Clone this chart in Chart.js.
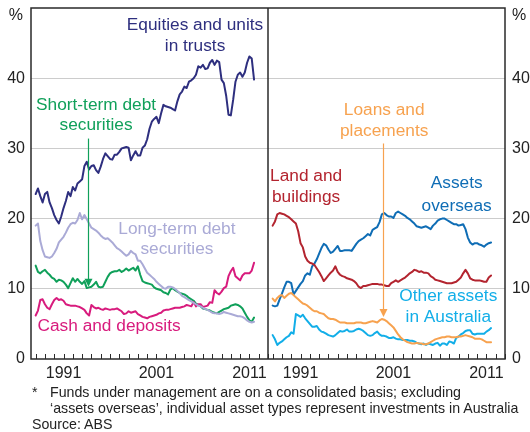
<!DOCTYPE html>
<html><head><meta charset="utf-8">
<script src="https://cdn.jsdelivr.net/npm/chart.js@4.4.1/dist/chart.umd.min.js"></script>
<style>
html,body{margin:0;padding:0;background:#fff;}
#wrap{position:relative;width:530px;height:432px;overflow:hidden;background:#fff;}
canvas{position:absolute;left:0;top:0;}
.note{position:absolute;font-family:"Liberation Sans",Arial,sans-serif;font-size:14.2px;color:#222;white-space:nowrap;line-height:16px;}
</style></head><body>
<div id="wrap">
<canvas id="c" width="530" height="432"></canvas>
<div class="note" style="left:32px;top:384px">*</div>
<div class="note" style="left:50px;top:384px">Funds under management are on a consolidated basis; excluding</div>
<div class="note" style="left:50px;top:400px">‘assets overseas’, individual asset types represent investments in Australia</div>
<div class="note" style="left:32px;top:416px">Source: ABS</div>
</div>
<script>
// ---- time axis (quarterly, from March 1988) ----
const FIRST_QUARTER = 1988.0;
const QUARTER_STEP = 0.25;
const AXIS_START = 1987.5;     // left edge of each panel
const AXIS_END = 2013.0;       // right edge of each panel
const PANEL_OFFSET = AXIS_END - AXIS_START; // shift applied to right-panel x values
const yearTicks = [1988,1989,1990,1991,1992,1993,1994,1995,1996,1997,1998,1999,2000,2001,2002,2003,2004,2005,2006,2007,2008,2009,2010,2011,2012,2013];
const yearLabels = [1991, 2001, 2011];
const valueTicks = [0, 10, 20, 30, 40, 50];

// ---- left panel series (% of total) ----
const equities = [23.5,24.3,23.2,22.3,23.5,23.8,22.3,21.5,20.5,19.8, 19.3,20.3,21.5,22.5,23.8,23.2,24.5,24.0,25.0,25.3, 25.6,27.5,28.1,27.0,27.5,27.6,26.9,26.5,27.4,28.5, 29.3,28.9,28.5,28.4,29.1,29.1,29.5,30.0,30.1,30.2, 30.1,28.3,29.0,29.6,29.0,29.0,30.1,30.4,31.3,32.8, 33.8,34.2,34.5,33.6,35.0,36.2,36.0,35.9,35.8,35.6, 35.4,36.7,37.7,38.1,38.8,38.6,39.5,39.7,40.0,40.5, 41.7,41.5,41.9,41.3,41.4,42.2,42.6,41.9,42.5,42.3, 39.8,39.3,37.5,34.8,34.7,36.9,39.5,40.5,40.8,40.2, 40.8,42.2,43.1,42.8,39.8];
const shortTermDebt = [13.3,12.4,12.2,12.5,12.7,12.3,12.0,11.6,11.4,11.0, 11.3,11.2,11.0,10.6,10.1,10.8,11.5,11.0,11.4,11.0, 10.7,11.1,10.1,10.2,10.3,10.6,11.0,10.3,10.2,10.3, 11.0,11.7,12.2,12.4,12.5,12.5,12.7,12.4,12.6,12.9, 12.6,12.8,13.0,12.6,13.2,12.0,11.1,10.9,10.8,10.7, 10.6,10.2,10.0,9.9,9.8,9.5,9.4,9.2,9.9,10.1, 9.8,9.6,9.4,9.3,9.2,9.0,8.7,8.5,8.3,7.9, 7.7,7.5,7.2,7.1,7.0,6.9,6.7,6.6,6.5,6.7, 6.9,7.1,7.2,7.3,7.6,7.7,7.8,7.7,7.5,7.2, 6.6,6.0,5.5,5.3,5.9];
const longTermDebt = [19.0,19.3,16.8,15.5,14.6,14.5,14.4,14.6,15.1,15.7, 16.6,17.0,17.4,18.0,18.7,19.2,19.4,19.3,19.8,20.8, 19.9,20.5,19.9,19.3,18.7,18.5,18.3,18.0,17.6,17.3, 17.1,17.2,16.9,16.6,16.2,15.8,15.6,15.3,15.0,14.7, 14.9,15.4,15.1,14.9,14.0,14.0,13.5,12.9,12.3,12.0, 11.7,11.4,11.0,10.7,10.4,10.1,10.0,10.3,10.3,10.2, 10.0,9.7,9.4,9.0,8.8,8.6,8.4,8.2,8.0,7.8, 7.6,7.5,7.3,7.1,7.0,6.8,6.6,6.5,6.5,6.4, 6.5,6.7,6.6,6.5,6.4,6.3,6.2,6.1,6.1,6.0, 5.8,5.5,5.3,5.2,5.3];
const cashDeposits = [6.2,6.9,8.4,8.5,7.8,7.3,7.1,7.8,8.4,8.7, 8.4,8.5,8.3,7.8,7.7,7.6,7.6,7.6,7.5,7.4, 7.2,7.0,6.5,6.2,7.7,7.4,7.2,7.3,7.1,7.0, 7.2,7.1,7.0,7.1,7.1,7.2,7.0,6.8,6.4,6.5, 6.8,6.6,6.7,6.8,6.4,6.2,6.0,5.9,5.8,6.0, 6.1,6.2,6.3,6.5,6.6,6.9,7.0,7.0,7.1,7.2, 7.3,7.3,7.3,7.4,7.5,7.7,7.6,7.5,8.1,7.5, 7.8,7.8,7.4,7.5,7.6,8.1,8.0,9.8,9.4,9.2, 9.6,10.1,10.3,11.8,12.5,13.0,11.8,11.5,11.2,11.9, 12.2,12.2,12.2,12.6,13.7];

// ---- right panel series (% of total) ----
const landBuildings = [19.0,19.6,20.6,20.8,20.7,20.6,20.4,20.2,19.9,19.6, 19.3,18.2,16.5,15.9,14.6,14.0,13.7,13.6,13.4,12.9, 12.4,11.8,11.1,11.5,11.9,12.3,12.6,13.2,12.4,12.0, 11.8,11.7,11.5,11.4,11.3,11.1,10.8,10.3,10.1,10.4, 10.4,10.5,10.6,10.7,10.7,10.7,10.6,10.6,10.5,10.4, 10.4,10.8,11.0,11.2,11.0,11.2,11.4,11.6,11.9,12.2, 12.4,12.7,12.6,12.4,12.5,12.3,12.3,12.2,11.8,11.6, 11.3,11.2,11.1,11.0,10.9,10.8,10.8,10.8,10.9,11.0, 11.3,11.6,12.2,12.7,12.2,11.5,11.3,11.2,11.2,11.2, 11.1,11.0,11.0,11.6,11.9];
const assetsOverseas = [7.6,7.5,7.6,8.5,9.3,10.2,11.0,11.0,10.8,9.2, 9.7,10.2,10.7,11.1,11.9,12.2,12.0,13.2,13.6,14.2, 15.0,15.8,16.4,16.2,15.6,15.1,15.3,15.7,16.1,15.4, 15.4,15.5,15.5,15.5,15.4,15.9,16.4,16.8,17.0,17.2, 17.5,17.8,17.6,18.4,18.6,18.8,19.5,20.6,20.8,20.5, 20.3,20.3,20.1,20.8,21.0,20.8,20.6,20.4,20.1,19.9, 19.6,19.3,18.9,18.8,18.7,18.8,18.9,18.7,18.5,19.0, 19.3,19.7,19.9,20.0,20.0,19.8,19.6,19.4,19.2,19.2, 19.0,19.1,19.2,18.5,17.3,16.6,16.3,16.5,16.5,16.3, 16.2,16.0,16.3,16.5,16.6];
const loansPlacements = [8.6,8.2,8.7,9.0,9.1,8.7,9.0,9.3,9.4,9.1, 8.8,8.5,8.2,7.9,7.8,7.6,7.3,7.0,6.8,6.8, 6.6,6.5,6.4,6.1,5.8,5.7,5.7,5.6,5.4,5.2, 5.2,5.2,5.1,5.1,5.1,5.1,5.2,5.2,5.2,5.1, 5.1,5.2,5.3,5.4,5.3,5.2,5.5,5.7,5.6,5.4, 5.1,4.8,4.5,4.0,3.5,3.1,2.8,2.6,2.4,2.3, 2.2,2.2,2.3,2.2,2.2,2.1,2.1,2.2,2.4,2.6, 2.8,2.9,3.0,3.1,3.1,3.2,3.2,3.1,3.1,3.1, 3.2,3.2,3.3,3.4,3.3,3.2,3.1,2.9,2.9,2.9, 2.8,2.6,2.4,2.4,2.4];
const otherAssetsAus = [3.4,2.8,2.0,2.3,2.5,2.8,3.1,3.3,3.8,3.6, 6.4,6.2,6.0,6.3,5.8,5.4,5.0,4.6,4.6,4.7, 4.2,3.9,3.8,3.6,3.4,3.3,3.2,3.4,3.7,4.0, 3.9,4.0,4.2,3.9,3.9,4.0,4.2,4.3,4.2,4.0, 3.7,3.4,3.3,3.4,3.7,3.9,3.5,3.3,3.3,3.2, 3.0,3.0,3.1,2.9,2.8,2.8,2.7,2.7,2.7,2.6, 2.6,2.5,2.3,2.2,2.1,2.2,2.0,2.2,2.1,2.0, 2.2,2.3,1.9,2.2,2.2,2.0,2.5,2.4,2.2,3.0, 3.2,3.5,3.7,4.0,4.1,4.1,3.6,3.5,3.6,3.6, 3.6,3.6,3.9,4.1,4.4];

// ---- styling ----
const FONT = '"Liberation Sans", Arial, sans-serif';
const colors = {
  equities: '#2e2f7f', shortTerm: '#10a05a', longTerm: '#aaaad6', cash: '#d81b7d',
  land: '#b3242f', overseas: '#0f6db5', loans: '#f7a24f', other: '#12aee8'
};
const seriesDefs = [
  {name:'Long-term debt securities', values:longTermDebt, panel:0, color:colors.longTerm},
  {name:'Cash and deposits', values:cashDeposits, panel:0, color:colors.cash},
  {name:'Short-term debt securities', values:shortTermDebt, panel:0, color:colors.shortTerm},
  {name:'Equities and units in trusts', values:equities, panel:0, color:colors.equities},
  {name:'Loans and placements', values:loansPlacements, panel:1, color:colors.loans},
  {name:'Other assets in Australia', values:otherAssetsAus, panel:1, color:colors.other},
  {name:'Land and buildings', values:landBuildings, panel:1, color:colors.land},
  {name:'Assets overseas', values:assetsOverseas, panel:1, color:colors.overseas}
];
// annotation labels, in data units (year of panel, % value of each line)
const labels = [
  {lines:['Equities and units','in trusts'], panel:0, year:2005.15, at:[47.5,44.6], color:colors.equities},
  {lines:['Short-term debt','securities'], panel:0, year:1994.5, at:[36.2,33.3], color:colors.shortTerm},
  {lines:['Long-term debt','securities'], panel:0, year:2003.2, at:[18.5,15.6], color:colors.longTerm},
  {lines:['Cash and deposits'], panel:0, year:1995.9, at:[4.6], color:colors.cash},
  {lines:['Land and','buildings'], panel:1, year:1991.6, at:[26.0,23.0], color:colors.land},
  {lines:['Assets','overseas'], panel:1, year:2007.8, at:[25.0,21.8], color:colors.overseas},
  {lines:['Loans and','placements'], panel:1, year:2000.0, at:[35.4,32.4], color:colors.loans},
  {lines:['Other assets','in Australia'], panel:1, year:2006.9, at:[8.9,6.0], color:colors.other}
];
const arrows = [
  {panel:0, year:1993.64, from:31.4, to:10.3, color:colors.shortTerm},
  {panel:1, year:1999.85, from:30.7, to:6.0, color:colors.loans}
];

const panelX = (year, panel) => year + panel * PANEL_OFFSET;
const quarterYear = i => FIRST_QUARTER + i * QUARTER_STEP;

const datasets = seriesDefs.map(s => ({
  label: s.name,
  data: s.values.map((v, i) => ({x: panelX(quarterYear(i), s.panel), y: v})),
  borderColor: s.color, backgroundColor: s.color,
  borderWidth: 2, pointRadius: 0, tension: 0, fill: false,
  borderJoinStyle: 'round', borderCapStyle: 'round'
}));

const xTickValues = [];
yearTicks.forEach(y => xTickValues.push(panelX(y, 0)));
yearTicks.forEach(y => { if (panelX(y,1) > panelX(AXIS_END,0)) xTickValues.push(panelX(y, 1)); });

const zeroPad = s => { s.paddingTop = 0; s.paddingBottom = 0; s.paddingLeft = 0; s.paddingRight = 0; };

const decoPlugin = {
  id: 'deco',
  afterDatasetsDraw(chart) {
    const ctx = chart.ctx, a = chart.chartArea, xs = chart.scales.x, ys = chart.scales.y;
    ctx.save();
    // labels
    ctx.font = '17.3px ' + FONT;
    ctx.textAlign = 'center'; ctx.textBaseline = 'middle';
    labels.forEach(l => {
      ctx.fillStyle = l.color;
      const px = xs.getPixelForValue(panelX(l.year, l.panel));
      l.lines.forEach((t, k) => ctx.fillText(t, px, ys.getPixelForValue(l.at[k])));
    });
    // arrows
    arrows.forEach(ar => {
      const px = Math.round(xs.getPixelForValue(panelX(ar.year, ar.panel))) + 0.5;
      const y0 = ys.getPixelForValue(ar.from), y1 = ys.getPixelForValue(ar.to);
      ctx.strokeStyle = ar.color; ctx.fillStyle = ar.color; ctx.lineWidth = 1.2;
      ctx.beginPath(); ctx.moveTo(px, y0); ctx.lineTo(px, y1 - 6); ctx.stroke();
      ctx.beginPath(); ctx.moveTo(px - 4, y1 - 8); ctx.lineTo(px + 4, y1 - 8); ctx.lineTo(px, y1); ctx.closePath(); ctx.fill();
    });
    // frame
    ctx.strokeStyle = '#2a2a2a'; ctx.lineWidth = 1.5;
    ctx.strokeRect(a.left, a.top, a.right - a.left, a.bottom - a.top);
    const divX = xs.getPixelForValue(panelX(AXIS_END, 0));
    ctx.beginPath(); ctx.moveTo(divX, a.top); ctx.lineTo(divX, a.bottom); ctx.stroke();
    // inward tick marks
    ctx.lineWidth = 1; ctx.strokeStyle = '#2a2a2a';
    xTickValues.forEach(v => {
      const px = Math.round(xs.getPixelForValue(v)) + 0.5;
      ctx.beginPath(); ctx.moveTo(px, a.bottom); ctx.lineTo(px, a.bottom - 5); ctx.stroke();
    });
    // % units
    ctx.fillStyle = '#222'; ctx.font = '16px ' + FONT; ctx.textBaseline = 'middle';
    ctx.textAlign = 'right'; ctx.fillText('%', a.left - 8, a.top + 8);
    ctx.textAlign = 'left'; ctx.fillText('%', a.right + 7, a.top + 8);
    ctx.restore();
  }
};

new Chart(document.getElementById('c'), {
  type: 'line',
  data: {datasets},
  plugins: [decoPlugin],
  options: {
    responsive: false, animation: false, devicePixelRatio: 1,
    layout: {padding: {top: 8, left: 0, right: 0, bottom: 0}},
    plugins: {legend: {display: false}, tooltip: {enabled: false}},
    scales: {
      x: {
        type: 'linear', min: panelX(AXIS_START, 0), max: panelX(AXIS_END, 1),
        afterBuildTicks: s => { s.ticks = xTickValues.map(v => ({value: v})); },
        afterFit: s => { s.height = 73; zeroPad(s); },
        grid: {display: false, drawTicks: false}, border: {display: false},
        ticks: {
          autoSkip: false, maxRotation: 0, padding: 5, color: '#222',
          font: {family: FONT, size: 16},
          callback: v => {
            const yr = v > panelX(AXIS_END, 0) ? v - PANEL_OFFSET : v;
            return yearLabels.includes(Math.round(yr)) && Math.abs(yr - Math.round(yr)) < 1e-6 ? String(Math.round(yr)) : '';
          }
        }
      },
      y: {
        position: 'left', min: 0, max: 50,
        afterBuildTicks: s => { s.ticks = valueTicks.map(v => ({value: v})); },
        afterFit: s => { s.width = 31; zeroPad(s); },
        grid: {drawTicks: false, color: c => (c.tick && (c.tick.value === 0 || c.tick.value === 50)) ? 'rgba(0,0,0,0)' : '#cccccc', lineWidth: 1},
        border: {display: false},
        ticks: {padding: 6, color: '#222', font: {family: FONT, size: 16}, callback: v => v === 50 ? '' : v}
      },
      y2: {
        position: 'right', min: 0, max: 50,
        afterBuildTicks: s => { s.ticks = valueTicks.map(v => ({value: v})); },
        afterFit: s => { s.width = 25; zeroPad(s); },
        grid: {display: false, drawTicks: false}, border: {display: false},
        ticks: {padding: 7, color: '#222', font: {family: FONT, size: 16}, callback: v => v === 50 ? '' : v}
      }
    }
  }
});
</script>
</body></html>
